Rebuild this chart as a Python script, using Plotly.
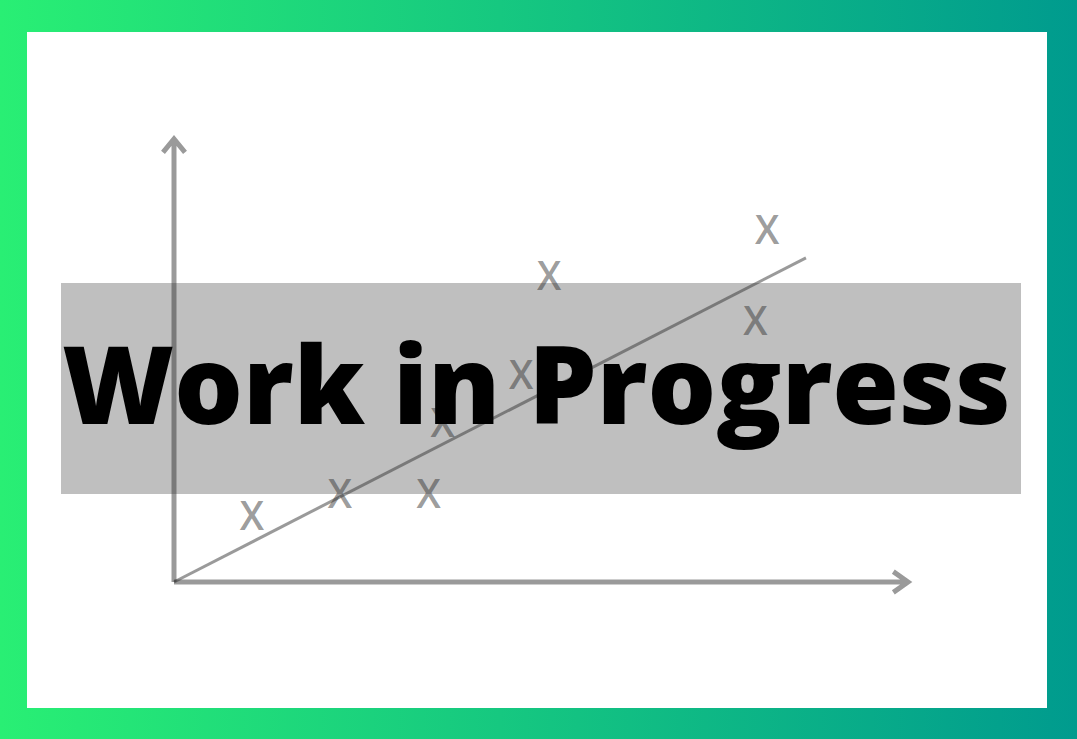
import base64
import plotly.graph_objects as go

# ---------------- data ----------------
pts_x = [1.06, 2.26, 3.47, 3.66, 4.73, 5.11, 7.92, 8.08]
pts_y = [0.84, 1.14, 1.14, 2.10, 2.74, 4.09, 3.48, 4.71]
point_label = "X"
trend_x = [0.0, 8.61]
trend_y = [0.0, 4.39]
axis_len_x = 10.0
axis_len_y = 6.0
title_text = "Work in Progress"

# ---------------- layout constants ----------------
W, H = 1077, 739
origin_px = (174, 582)
xtip_px = 908
ytip_px = 139
ppu_x = (xtip_px - origin_px[0]) / axis_len_x
ppu_y = (origin_px[1] - ytip_px) / axis_len_y
xr = [-1.0, 11.0]
yr = [-1.0, 7.0]
x0_px = origin_px[0] + xr[0] * ppu_x
x1_px = origin_px[0] + xr[1] * ppu_x
y0_px = origin_px[1] - yr[0] * ppu_y
y1_px = origin_px[1] - yr[1] * ppu_y

ink = "rgba(49,49,49,0.49)"

svg = (
    f'<svg xmlns="http://www.w3.org/2000/svg" width="{W}" height="{H}">'
    '<defs><linearGradient id="g" x1="0" y1="0" x2="1" y2="0">'
    '<stop offset="0" stop-color="#29EF74"/>'
    '<stop offset="1" stop-color="#009B8E"/>'
    '</linearGradient></defs>'
    f'<rect width="{W}" height="{H}" fill="url(#g)"/></svg>'
)
src = "data:image/svg+xml;base64," + base64.b64encode(svg.encode()).decode()

fig = go.Figure()

# axes with chevron heads
ax_arm_x, ax_arm_y = 0.20, 0.14
ay_arm_x, ay_arm_y = 0.15, 0.18
fig.add_trace(go.Scatter(
    x=[0, axis_len_x, axis_len_x - ax_arm_x, axis_len_x, axis_len_x - ax_arm_x],
    y=[0, 0, ax_arm_y, 0, -ax_arm_y],
    mode="lines", line=dict(color=ink, width=5), hoverinfo="skip"))
fig.add_trace(go.Scatter(
    x=[0, 0, -ay_arm_x, 0, ay_arm_x],
    y=[0, axis_len_y, axis_len_y - ay_arm_y, axis_len_y, axis_len_y - ay_arm_y],
    mode="lines", line=dict(color=ink, width=5), hoverinfo="skip"))

# trend line
fig.add_trace(go.Scatter(x=trend_x, y=trend_y, mode="lines",
                         line=dict(color=ink, width=3), hoverinfo="skip"))

# points as X glyphs
fig.add_trace(go.Scatter(x=pts_x, y=pts_y, mode="text",
                         text=[point_label] * len(pts_x),
                         textposition="middle center",
                         textfont=dict(family="Open Sans", size=39, color=ink, weight=600),
                         cliponaxis=False, hoverinfo="skip"))

fig.update_layout(
    width=W, height=H, autosize=False,
    margin=dict(l=0, r=0, t=0, b=0, pad=0),
    paper_bgcolor="white", plot_bgcolor="rgba(0,0,0,0)",
    showlegend=False,
    xaxis=dict(range=xr, domain=[x0_px / W, x1_px / W], visible=False, fixedrange=True),
    yaxis=dict(range=yr, domain=[(H - y0_px) / H, (H - y1_px) / H], visible=False, fixedrange=True),
    images=[dict(source=src, xref="paper", yref="paper", x=0, y=1, sizex=1, sizey=1,
                 sizing="stretch", xanchor="left", yanchor="top", layer="below")],
    shapes=[
        dict(type="rect", xref="paper", yref="paper", x0=27 / W, x1=1047 / W,
             y0=1 - 708 / H, y1=1 - 32 / H, fillcolor="white", line=dict(width=0), layer="below"),
        dict(type="rect", xref="paper", yref="paper", x0=61 / W, x1=1021 / W,
             y0=1 - 494 / H, y1=1 - 283 / H, fillcolor="#BFBFBF", line=dict(width=0), layer="below"),
    ],
    annotations=[dict(text=title_text, xref="paper", yref="paper", x=536.5 / W, y=1 - 382 / H,
                      xanchor="center", yanchor="middle", showarrow=False,
                      font=dict(family="Open Sans", size=108, color="black", weight=800))],
)

fig.write_html("out.html", config={"displayModeBar": False, "staticPlot": True},
               post_script="document.body.style.margin='0';")
